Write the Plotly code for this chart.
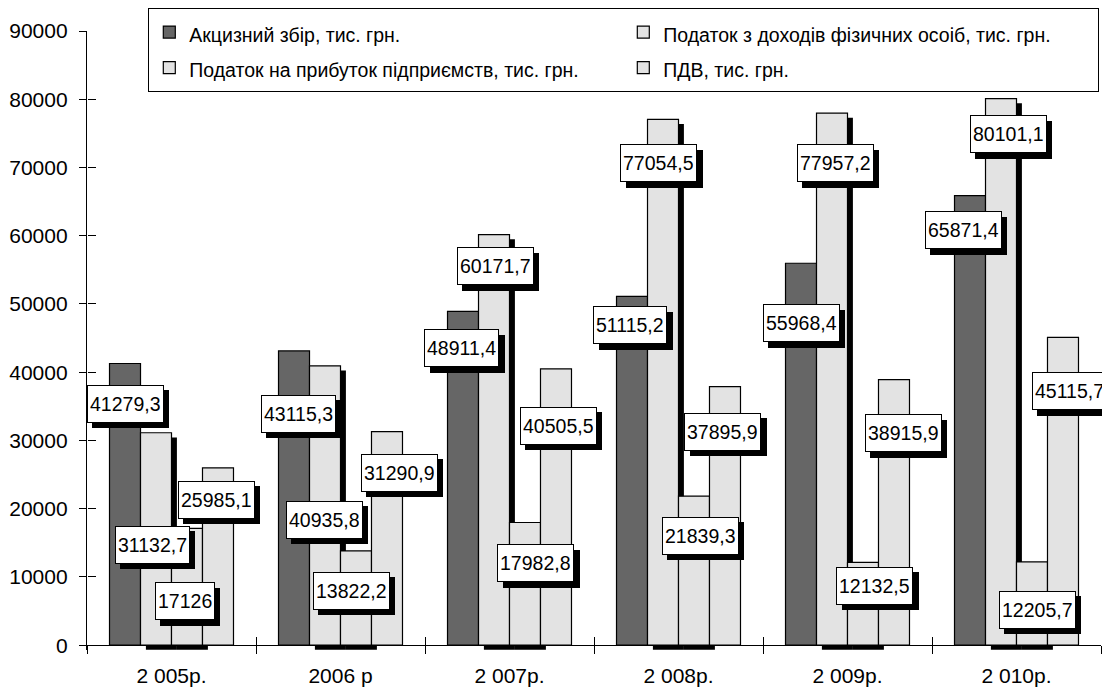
import plotly.graph_objects as go

# ---------------- data ----------------
years = ['2 005р.', '2006 р', '2 007р.', '2 008р.', '2 009р.', '2 010р.']
excise = [41279.3, 43115.3, 48911.4, 51115.2, 55968.4, 65871.4]
pit = [31132.7, 40935.8, 60171.7, 77054.5, 77957.2, 80101.1]
profit = [17126, 13822.2, 17982.8, 21839.3, 12132.5, 12205.7]
vat = [25985.1, 31290.9, 40505.5, 37895.9, 38915.9, 45115.7]
series_names = ['Акцизний збір, тис. грн.',
                'Податок з доходів фізичних осоіб, тис. грн.',
                'Податок на прибуток підприємств, тис. грн.',
                'ПДВ, тис. грн.']
y_ticks = [0, 10000, 20000, 30000, 40000, 50000, 60000, 70000, 80000, 90000]

# ---------------- style / layout ----------------
FONT = 'Liberation Sans, Arial, sans-serif'
colors = ['#666666', '#e3e3e3', '#e3e3e3', '#e3e3e3']
has_shadow = [False, True, True, False]
W, H = 1102, 687
ML, MR, MT, MB = 87, 1, 31, 37
YMIN, YMAX = -700, 90000
BAR_W = 0.1834
SH_DX = 0.032       # shadow offset (category units)
SH_DY = 680         # shadow offset (value units)
LBL_SIZE = 19.5
TICK_SIZE = 21

# label shifts in px: (dx, dy below bar top) per series per year
label_shift = [
    [(0, 40), (4, 63), (-1.5, 37), (-1.7, 29), (0, 60), (-6.7, 34.7)],
    [(-3.7, 112), (-1, 154), (1.3, 31.5), (-4.2, 44), (3, 50), (7, 35.5)],
    [(-2.5, 73), (-4.7, 40), (10.5, 40.5), (6, 39.7), (11.5, 23.5), (5, 48)],
    [(-1.7, 32), (12.5, 41), (2.5, 57), (-2, 45), (9.5, 53.5), (6.5, 54)],
]

data = [excise, pit, profit, vat]


def fmt(v):
    s = f"{v:.1f}"
    if s.endswith('.0'):
        s = s[:-2]
    return s.replace('.', ',')


fig = go.Figure()
for k, vals in enumerate(data):
    off = -2 * BAR_W + k * BAR_W
    if has_shadow[k]:
        fig.add_trace(go.Bar(
            x=years, y=vals, base=[-SH_DY] * len(vals), width=BAR_W, offset=off + SH_DX,
            marker=dict(color='black', line=dict(width=0)),
            showlegend=False, hoverinfo='skip'))
    fig.add_trace(go.Bar(
        x=years, y=vals, width=BAR_W, offset=off,
        name=f'<span style="font-size:19.5px">{series_names[k]}</span>',
        marker=dict(color=colors[k], line=dict(color='black', width=1.2))))

# dummy trace for the overlay axes (inside halves of crossing ticks)
fig.add_trace(go.Scatter(x=[0], y=[0], xaxis='x2', yaxis='y2', mode='markers',
                         marker=dict(opacity=0), hoverinfo='skip', showlegend=False))

annotations = []
for k, vals in enumerate(data):
    off = -2 * BAR_W + k * BAR_W
    for i, v in enumerate(vals):
        dx, dy = label_shift[k][i]
        xc = i + off + BAR_W / 2
        base = dict(x=xc, y=v, xref='x', yref='y', text=fmt(v), showarrow=False,
                    borderwidth=1, borderpad=2, height=32,
                    xanchor='center', yanchor='middle')
        sh = dict(base)
        sh.update(xshift=dx + 5.5, yshift=-dy - 5.5, bgcolor='black', bordercolor='black',
                  font=dict(family=FONT, size=LBL_SIZE, color='black'))
        annotations.append(sh)
        fr = dict(base)
        fr.update(xshift=dx, yshift=-dy, bgcolor='white', bordercolor='black',
                  font=dict(family=FONT, size=LBL_SIZE, color='black'))
        annotations.append(fr)

xpos = (0 - YMIN) / (YMAX - YMIN)
plot_w = W - ML - MR
plot_h = H - MT - MB

fig.update_layout(
    width=W, height=H,
    margin=dict(l=ML, r=MR, t=MT, b=MB, pad=0, autoexpand=False),
    paper_bgcolor='white', plot_bgcolor='white',
    barmode='overlay',
    font=dict(family=FONT, size=TICK_SIZE, color='black'),
    showlegend=True,
    legend=dict(orientation='h', x=(148 - ML) / plot_w, xanchor='left',
                y=1 + (MT - 8) / plot_h, yanchor='top',
                bgcolor='white', bordercolor='black', borderwidth=1.3,
                font=dict(family=FONT, size=25, color='black'),
                entrywidth=429, entrywidthmode='pixels', traceorder='normal'),
    xaxis=dict(type='category', categoryarray=years, range=[-0.5, 5.5],
               anchor='free', position=xpos,
               showline=True, linecolor='black', linewidth=1.3,
               ticks='outside', ticklen=8, tickwidth=1.3, tickcolor='black',
               tickson='boundaries', showgrid=False, zeroline=False,
               ticklabelstandoff=11,
               tickfont=dict(family=FONT, size=TICK_SIZE, color='black')),
    yaxis=dict(range=[YMIN, YMAX], tickmode='array', tickvals=y_ticks,
               tickformat='d', showline=True, linecolor='black', linewidth=1.3,
               ticks='outside', ticklen=7, tickwidth=1.3, tickcolor='black',
               showgrid=False, zeroline=False, ticklabelstandoff=7,
               tickfont=dict(family=FONT, size=TICK_SIZE, color='black')),
    xaxis2=dict(overlaying='x', range=[-0.5, 5.5], anchor='free', position=xpos,
                tickmode='array', tickvals=[j - 0.5 for j in range(len(years) + 1)],
                ticks='inside', ticklen=8, tickwidth=1.3, tickcolor='black',
                showticklabels=False, showline=False, showgrid=False, zeroline=False),
    yaxis2=dict(overlaying='y', range=[YMIN, YMAX], anchor='free', position=0,
                side='left', tickmode='array', tickvals=y_ticks,
                ticks='inside', ticklen=8, tickwidth=1.3, tickcolor='black',
                showticklabels=False, showline=False, showgrid=False, zeroline=False),
    annotations=annotations,
)

fig.write_html("out.html", config={'displayModeBar': False},
               post_script="document.body.style.margin='0';")
